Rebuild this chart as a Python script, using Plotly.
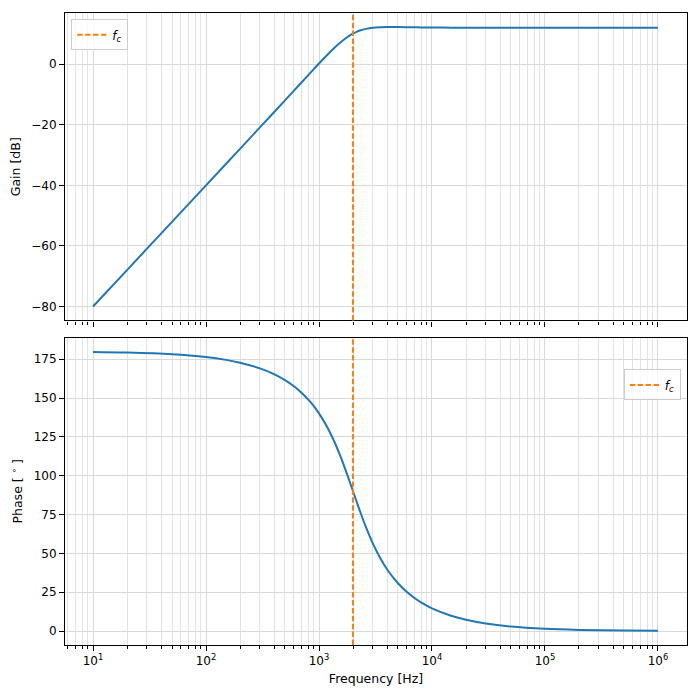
import plotly.graph_objects as go
from plotly.subplots import make_subplots

# values
freq = [10, 20, 50, 100, 150, 200, 300, 400, 500, 600, 700, 850, 1000, 1200, 1350, 1500, 1700, 1850,
        2000, 2150, 2300, 2600, 3000, 3500, 4000, 5000, 6000, 7000, 8000, 10000, 15000, 20000,
        30000, 50000, 100000, 200000, 500000, 1000000]
gain_db = [-80.0, -67.96, -52.04, -39.99, -32.95, -27.94, -20.88, -15.85, -11.94, -8.74, -6.03, -2.62,
           0.21, 3.29, 5.18, 6.75, 8.40, 9.36, 10.10, 10.67, 11.10, 11.66, 12.03, 12.20, 12.25, 12.24,
           12.20, 12.17, 12.14, 12.11, 12.07, 12.06, 12.05, 12.04, 12.04, 12.04, 12.04, 12.04]
phase_deg = [179.64, 179.28, 178.21, 176.41, 174.61, 172.80, 169.14, 165.40, 161.57, 157.60, 153.50,
             147.04, 140.19, 130.48, 122.83, 115.02, 104.64, 97.12, 90.0, 83.39, 77.36, 67.0, 56.31,
             46.69, 39.81, 30.76, 25.11, 21.25, 18.43, 14.60, 9.63, 7.20, 4.78, 2.87, 1.43, 0.72,
             0.29, 0.14]
fc = 2000

decades = [10, 100, 1000, 10000, 100000, 1000000]
decade_labels = ["10<sup>1</sup>", "10<sup>2</sup>", "10<sup>3</sup>", "10<sup>4</sup>", "10<sup>5</sup>", "10<sup>6</sup>"]
minor_vals = [m * 10 ** e for e in range(0, 7) for m in range(2, 10)]

blue = "#1f77b4"
orange = "#ff7f0e"
grid_major = "#d9d9d9"
grid_minor = "#e3e3e3"
font = "DejaVu Sans"

fig = make_subplots(rows=2, cols=1, shared_xaxes=True, vertical_spacing=0.027)

fig.add_trace(go.Scatter(x=freq, y=gain_db, mode="lines", line=dict(color=blue, width=2, shape="spline"),
                         showlegend=False), row=1, col=1)
fig.add_trace(go.Scatter(x=freq, y=phase_deg, mode="lines", line=dict(color=blue, width=2, shape="spline"),
                         showlegend=False), row=2, col=1)

# vertical cut-off line in both panels, with legend entries
fig.add_shape(type="line", x0=fc, x1=fc, y0=0, y1=1, xref="x", yref="y domain",
              line=dict(color=orange, width=2, dash="5.5px,2.4px"), showlegend=True,
              name="<i>f<sub>c</sub></i>", legend="legend")
fig.add_shape(type="line", x0=fc, x1=fc, y0=0, y1=1, xref="x2", yref="y2 domain",
              line=dict(color=orange, width=2, dash="5.5px,2.4px"), showlegend=True,
              name="<i>f<sub>c</sub></i>", legend="legend2")

xcommon = dict(type="log", range=[0.752, 6.257], showline=True, linecolor="black", linewidth=1.1,
               mirror=True, ticks="outside", ticklen=5, tickwidth=1.1, tickcolor="black",
               tickmode="array", tickvals=decades, ticktext=decade_labels, automargin=False,
               showgrid=True, gridcolor=grid_major, gridwidth=1, zeroline=False, tickfont=dict(size=12),
               minor=dict(tickmode="array", tickvals=minor_vals, ticks="outside", ticklen=3,
                          tickwidth=0.8, tickcolor="black", showgrid=True, gridcolor=grid_minor, gridwidth=1))
ycommon = dict(showline=True, linecolor="black", linewidth=1.1, mirror=True, ticks="outside",
               ticklen=5, tickwidth=1.1, tickcolor="black", showgrid=True, gridcolor=grid_major,
               gridwidth=1, zeroline=False, automargin=False, tickfont=dict(size=12))

fig.update_xaxes(**xcommon)
fig.update_xaxes(showticklabels=False, row=1, col=1)
fig.update_xaxes(title=dict(text="Frequency [Hz]", standoff=6, font=dict(size=12.5)), row=2, col=1)
fig.update_yaxes(**ycommon)
fig.update_yaxes(range=[-84.6, 16.9], tickvals=[-80, -60, -40, -20, 0],
                 ticktext=["\u221280", "\u221260", "\u221240", "\u221220", "0"],
                 title=dict(text="Gain [dB]", standoff=8, font=dict(size=12.5)), row=1, col=1)
fig.update_yaxes(range=[-9, 189], dtick=25, tick0=0,
                 title=dict(text="Phase [ <sup>\u2218</sup> ]", standoff=8, font=dict(size=12.5)),
                 row=2, col=1)

# the page body adds an 8px offset, so margins are shifted to compensate
fig.update_layout(
    width=700, height=700,
    margin=dict(l=57, r=21, t=5, b=63),
    plot_bgcolor="white", paper_bgcolor="white",
    font=dict(family=font, size=12, color="black"),
    legend=dict(x=0.01, y=0.99, xanchor="left", yanchor="top", bgcolor="rgba(255,255,255,0.8)",
                bordercolor="#cccccc", borderwidth=1, font=dict(size=12)),
    legend2=dict(x=0.99, y=0.436, xanchor="right", yanchor="top", bgcolor="rgba(255,255,255,0.8)",
                 bordercolor="#cccccc", borderwidth=1, font=dict(size=12)),
)

fig.write_html("out.html")
